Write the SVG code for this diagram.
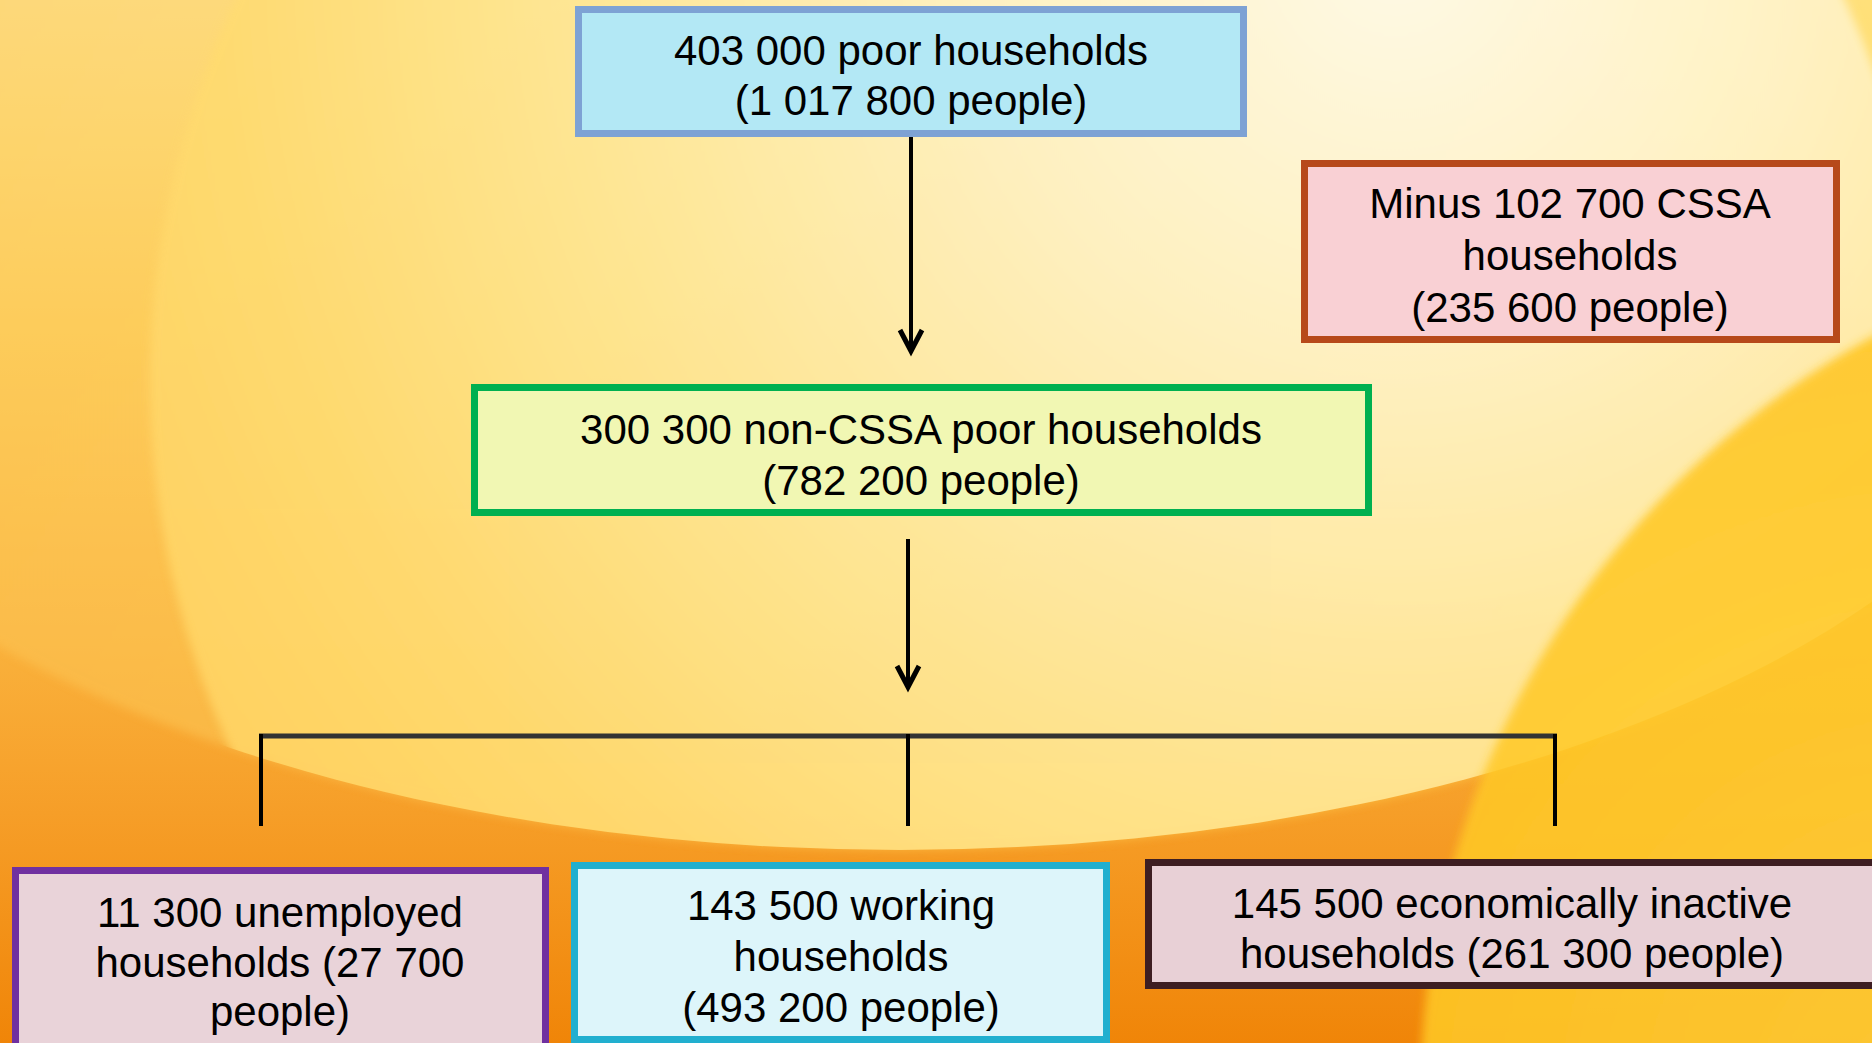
<svg xmlns="http://www.w3.org/2000/svg" width="1872" height="1043" viewBox="0 0 1872 1043">
  <defs>
    <linearGradient id="gBase" x1="0" y1="0" x2="0" y2="1">
      <stop offset="0" stop-color="#FFF4AE"/>
      <stop offset="0.12" stop-color="#FFEC92"/>
      <stop offset="0.32" stop-color="#FFD664"/>
      <stop offset="0.55" stop-color="#FBB944"/>
      <stop offset="0.78" stop-color="#F69E28"/>
      <stop offset="1" stop-color="#F08508"/>
    </linearGradient>
    <linearGradient id="gMid" x1="0" y1="0" x2="1" y2="0.3">
      <stop offset="0" stop-color="#FCBE4C"/>
      <stop offset="0.5" stop-color="#FDC857"/>
      <stop offset="1" stop-color="#FFD250"/>
    </linearGradient>
    <radialGradient id="gPale" cx="0.7" cy="0.26" r="0.78">
      <stop offset="0" stop-color="#FFFCEE"/>
      <stop offset="0.3" stop-color="#FFF3C8"/>
      <stop offset="0.6" stop-color="#FFE796"/>
      <stop offset="0.85" stop-color="#FFDB70"/>
      <stop offset="1" stop-color="#FFD465"/>
    </radialGradient>
    <radialGradient id="gYel" cx="0.3" cy="0.5" r="0.6">
      <stop offset="0" stop-color="#FFD23A"/>
      <stop offset="1" stop-color="#FFC015"/>
    </radialGradient>
    <clipPath id="clipMid">
      <ellipse cx="900" cy="250" rx="1200" ry="600"/>
    </clipPath>
    <filter id="soft" x="-10%" y="-10%" width="120%" height="120%">
      <feGaussianBlur stdDeviation="5"/>
    </filter>
    <marker id="arr" markerUnits="userSpaceOnUse" viewBox="-30 -20 40 40" markerWidth="40" markerHeight="40" refX="0" refY="0" orient="auto" overflow="visible">
      <path d="M-21,-11 L0,0 L-21,11" fill="none" stroke="#000" stroke-width="5" stroke-linejoin="miter"/>
    </marker>
    <style>
      .box { stroke-width: 7; }
      .lbl { font-family: "Liberation Sans", Arial, sans-serif; font-size: 42px; fill: #000; text-anchor: middle; }
      .conn { stroke: #000; stroke-width: 4; fill: none; }
    </style>
  </defs>

  <g id="background">
    <rect x="0" y="0" width="1872" height="1043" fill="url(#gBase)"/>
    <ellipse cx="900" cy="250" rx="1200" ry="600" fill="url(#gMid)" opacity="0.55" filter="url(#soft)"/>
    <g clip-path="url(#clipMid)">
      <circle cx="1040" cy="380" r="890" fill="url(#gPale)" opacity="0.92" filter="url(#soft)"/>
    </g>
    <circle cx="2290" cy="1100" r="870" fill="url(#gYel)" opacity="0.85" filter="url(#soft)"/>
  </g>

  <g id="connectors">
    <line class="conn" x1="911" y1="137" x2="911" y2="351" marker-end="url(#arr)"/>
    <line class="conn" x1="908" y1="539" x2="908" y2="687" marker-end="url(#arr)"/>
    <line x1="259" y1="736" x2="1557" y2="736" stroke="#333" stroke-width="5"/>
    <line class="conn" x1="261" y1="734" x2="261" y2="826"/>
    <line class="conn" x1="908" y1="734" x2="908" y2="826"/>
    <line class="conn" x1="1555" y1="734" x2="1555" y2="826"/>
  </g>

  <g id="node-total">
    <rect class="box" x="578.5" y="9.5" width="665" height="124" fill="#B3E8F5" stroke="#7EA2D4"/>
    <text class="lbl" x="911" y="65">403 000 poor households</text>
    <text class="lbl" x="911" y="115">(1 017 800 people)</text>
  </g>

  <g id="node-cssa">
    <rect class="box" x="1304.5" y="163.5" width="532" height="176" fill="#F9D0D4" stroke="#B7491A"/>
    <text class="lbl" x="1570" y="218">Minus 102 700 CSSA</text>
    <text class="lbl" x="1570" y="270">households</text>
    <text class="lbl" x="1570" y="322">(235 600 people)</text>
  </g>

  <g id="node-noncssa">
    <rect class="box" x="474.5" y="387.5" width="894" height="125" fill="#F1F7B3" stroke="#00B050"/>
    <text class="lbl" x="921" y="444">300 300 non-CSSA poor households</text>
    <text class="lbl" x="921" y="495">(782 200 people)</text>
  </g>

  <g id="node-unemployed">
    <rect class="box" x="15.5" y="870.5" width="530" height="200" fill="#E9D3D9" stroke="#7030A0"/>
    <text class="lbl" x="280" y="927">11 300 unemployed</text>
    <text class="lbl" x="280" y="977">households (27 700</text>
    <text class="lbl" x="280" y="1026">people)</text>
  </g>

  <g id="node-working">
    <rect class="box" x="574.5" y="865.5" width="532" height="174" fill="#DDF5FA" stroke="#21AFCF"/>
    <text class="lbl" x="841" y="920">143 500 working</text>
    <text class="lbl" x="841" y="971">households</text>
    <text class="lbl" x="841" y="1022">(493 200 people)</text>
  </g>

  <g id="node-inactive">
    <rect class="box" x="1148.5" y="862.5" width="740" height="123" fill="#E8D0D6" stroke="#3D1E22"/>
    <text class="lbl" x="1512" y="918">145 500 economically inactive</text>
    <text class="lbl" x="1512" y="968">households (261 300 people)</text>
  </g>
</svg>
